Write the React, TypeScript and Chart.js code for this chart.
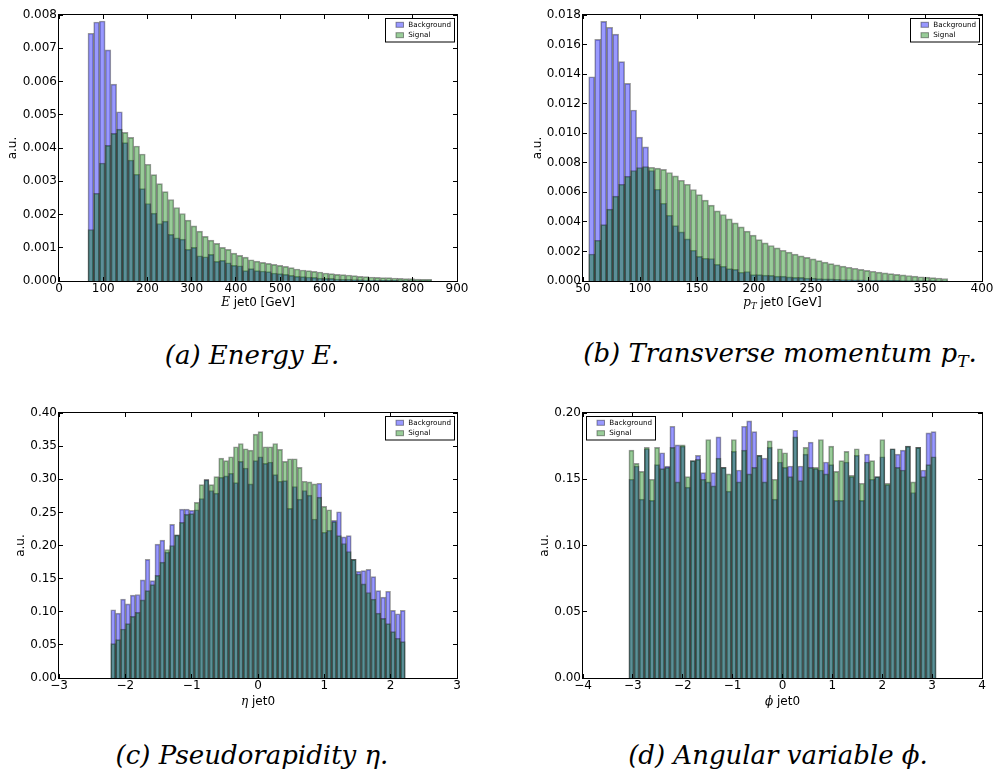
import React, { useEffect, useRef } from "react";
import { Chart, registerables } from "chart.js";

Chart.register(...registerables);

// ---------- data (histogram bin heights) ----------
const E_RANGE = [65.5, 842.8];
const E_BG = [
  0.00745, 0.00779, 0.00782, 0.00695, 0.00592, 0.00509, 0.00416, 0.00364, 0.00321, 0.00278,
  0.00233, 0.00204, 0.00173, 0.0018, 0.0014, 0.0013, 0.00126, 0.00095, 0.00101, 0.00076,
  0.00073, 0.0008, 0.00059, 0.00062, 0.00055, 0.00047, 0.00046, 0.00031, 0.00037, 0.00031,
  0.0003, 0.00028, 0.00024, 0.00022, 0.0002, 0.00017, 0.00014, 0.00013, 0.00012, 0.00011,
  0.00009, 0.00008, 0.00008, 0.00006, 0.00005, 0.00005, 0.00004, 0.00004, 0.00003, 0.00003,
  0.00003, 0.00002, 0.00002, 0.00002, 0.00001, 0.00001, 0.00001, 0.00001, 0.00001, 0.00001,
];
const E_SIG = [
  0.00155, 0.00264, 0.00355, 0.00408, 0.00444, 0.00457, 0.00447, 0.00432, 0.00406, 0.00382,
  0.00351, 0.0032, 0.00293, 0.00269, 0.00245, 0.00221, 0.00203, 0.00183, 0.00166, 0.0015,
  0.00134, 0.00123, 0.00113, 0.00101, 0.00095, 0.00084, 0.00077, 0.00072, 0.00064, 0.0006,
  0.00056, 0.00053, 0.0005, 0.00047, 0.00044, 0.0004, 0.00036, 0.00033, 0.00031, 0.00029,
  0.00027, 0.00024, 0.00022, 0.0002, 0.00019, 0.00018, 0.00016, 0.00014, 0.00013, 0.00012,
  0.00011, 0.0001, 0.0001, 0.00009, 0.00008, 0.00007, 0.00007, 0.00006, 0.00005, 0.00005,
];

const PT_RANGE = [55, 370];
const PT_BG = [
  0.01382, 0.01635, 0.01757, 0.01717, 0.01671, 0.01484, 0.01337, 0.01157, 0.00974, 0.00908,
  0.00748, 0.00621, 0.00526, 0.00445, 0.00375, 0.00332, 0.00285, 0.00208, 0.00167, 0.00154,
  0.00152, 0.00113, 0.001, 0.00084, 0.00079, 0.00059, 0.00064, 0.00043, 0.00043, 0.0004,
  0.00038, 0.00033, 0.00033, 0.00028, 0.00025, 0.00024, 0.0002, 0.0002, 0.00016, 0.00014,
  0.00014, 0.00012, 0.0001, 0.0001, 0.00008, 0.00008, 0.00007, 0.00006, 0.00006, 0.00005,
  0.00004, 0.00004, 0.00003, 0.00003, 0.00003, 0.00002, 0.00002, 0.00002, 0.00001, 0.00001,
];
const PT_SIG = [
  0.00183, 0.00276, 0.00382, 0.00486, 0.00574, 0.00655, 0.00709, 0.00748, 0.00768, 0.00775,
  0.0077, 0.00764, 0.00755, 0.00734, 0.00711, 0.00682, 0.00655, 0.00619, 0.00585, 0.00547,
  0.00513, 0.00474, 0.0045, 0.0042, 0.00393, 0.00366, 0.00337, 0.0031, 0.0028, 0.00258,
  0.0024, 0.00224, 0.00208, 0.00195, 0.00182, 0.0017, 0.0016, 0.0015, 0.00138, 0.00128,
  0.00118, 0.00109, 0.00101, 0.00093, 0.00086, 0.00079, 0.00072, 0.00066, 0.0006, 0.00055,
  0.0005, 0.00045, 0.00041, 0.00037, 0.00033, 0.00029, 0.00026, 0.00023, 0.0002, 0.00017,
];

const ETA_RANGE = [-2.22, 2.22];
const ETA_BG = [
  0.103, 0.098, 0.119, 0.112, 0.125, 0.126, 0.148, 0.179, 0.147, 0.202,
  0.208, 0.19, 0.232, 0.216, 0.255, 0.255, 0.253, 0.254, 0.271, 0.3,
  0.283, 0.279, 0.303, 0.305, 0.309, 0.295, 0.327, 0.317, 0.293, 0.328,
  0.334, 0.324, 0.326, 0.307, 0.297, 0.298, 0.256, 0.289, 0.27, 0.283,
  0.276, 0.24, 0.294, 0.22, 0.223, 0.238, 0.251, 0.213, 0.215, 0.179,
  0.161, 0.162, 0.164, 0.153, 0.132, 0.122, 0.131, 0.102, 0.097, 0.102,
];
const ETA_SIG = [
  0.052, 0.058, 0.074, 0.082, 0.093, 0.099, 0.118, 0.132, 0.141, 0.155,
  0.175, 0.194, 0.2, 0.216, 0.235, 0.247, 0.248, 0.265, 0.292, 0.299,
  0.292, 0.304, 0.332, 0.328, 0.334, 0.349, 0.354, 0.346, 0.344, 0.368,
  0.372, 0.349, 0.349, 0.354, 0.345, 0.327, 0.331, 0.331, 0.318, 0.297,
  0.296, 0.293, 0.273, 0.259, 0.254, 0.236, 0.215, 0.203, 0.191, 0.179,
  0.157, 0.142, 0.129, 0.119, 0.098, 0.09, 0.082, 0.07, 0.06, 0.055,
];

const PHI_RANGE = [-3.08, 3.08];
const PHI_BG = [
  0.15, 0.16, 0.135, 0.173, 0.134, 0.161, 0.17, 0.16, 0.19, 0.176,
  0.175, 0.144, 0.164, 0.168, 0.155, 0.148, 0.155, 0.182, 0.159, 0.141,
  0.171, 0.157, 0.19, 0.194, 0.186, 0.168, 0.166, 0.174, 0.135, 0.163,
  0.159, 0.16, 0.187, 0.16, 0.169, 0.178, 0.158, 0.157, 0.163, 0.161,
  0.134, 0.134, 0.163, 0.152, 0.168, 0.134, 0.169, 0.15, 0.152, 0.167,
  0.146, 0.173, 0.169, 0.172, 0.175, 0.14, 0.174, 0.157, 0.185, 0.186,
];
const PHI_SIG = [
  0.172, 0.162, 0.156, 0.174, 0.15, 0.174, 0.158, 0.159, 0.174, 0.148,
  0.176, 0.152, 0.164, 0.165, 0.15, 0.18, 0.145, 0.166, 0.159, 0.154,
  0.18, 0.148, 0.172, 0.154, 0.159, 0.168, 0.148, 0.179, 0.15, 0.173,
  0.17, 0.152, 0.182, 0.149, 0.174, 0.159, 0.159, 0.18, 0.154, 0.175,
  0.156, 0.164, 0.171, 0.153, 0.173, 0.147, 0.163, 0.164, 0.152, 0.18,
  0.147, 0.173, 0.159, 0.157, 0.175, 0.148, 0.174, 0.152, 0.161, 0.167,
];

const SERIES_LABELS = ["Background", "Signal"];

// ---------- styling ----------
const BLUE = "rgba(0,0,255,0.4)";
const GREEN = "rgba(0,128,0,0.4)";
const EDGE = "rgba(0,0,0,0.4)";
const SANS = "'DejaVu Sans', sans-serif";
const SERIF = "'DejaVu Serif', serif";

function binCenters(range: number[], n: number) {
  const w = (range[1] - range[0]) / n;
  const out: number[] = [];
  for (let i = 0; i < n; i++) out.push(range[0] + (i + 0.5) * w);
  return out;
}

const fmtMinus = (s: string) => s.replace("-", "\u2212");

const mplPlugin = {
  id: "mpl",
  afterDatasetsDraw(chart: any, _args: any, opts: any) {
    const { ctx, chartArea: a } = chart;
    const xs = chart.scales.x;
    const ys = chart.scales.y;
    ctx.save();
    // inward ticks on all four sides
    ctx.strokeStyle = "#000";
    ctx.lineWidth = 1;
    const L = 4;
    ctx.beginPath();
    xs.ticks.forEach((t: any) => {
      const px = Math.floor(xs.getPixelForValue(t.value)) + 0.5;
      ctx.moveTo(px, a.bottom);
      ctx.lineTo(px, a.bottom - L);
      ctx.moveTo(px, a.top);
      ctx.lineTo(px, a.top + L);
    });
    ys.ticks.forEach((t: any) => {
      const py = Math.floor(ys.getPixelForValue(t.value)) + 0.5;
      ctx.moveTo(a.left, py);
      ctx.lineTo(a.left + L, py);
      ctx.moveTo(a.right, py);
      ctx.lineTo(a.right - L, py);
    });
    ctx.stroke();
    // frame
    ctx.strokeRect(a.left - 0.5, a.top - 0.5, a.right - a.left + 1, a.bottom - a.top + 1);

    // legend
    const bw = 69;
    const bh = 23.5;
    const bx = Math.round(opts.legendSide === "left" ? a.left + 3 : a.right - 3 - bw);
    const by = Math.round(a.top + 3);
    ctx.fillStyle = "#fff";
    ctx.fillRect(bx, by, bw, bh);
    ctx.strokeStyle = "#000";
    ctx.strokeRect(bx + 0.5, by + 0.5, bw, bh);
    chart.data.datasets.forEach((ds: any, i: number) => {
      const cy = by + 6.8 + i * 10.4;
      ctx.fillStyle = ds.backgroundColor;
      ctx.fillRect(bx + 11, cy - 2.5, 7.5, 5);
      ctx.strokeStyle = EDGE;
      ctx.strokeRect(bx + 11, cy - 2.5, 7.5, 5);
      ctx.fillStyle = "#000";
      ctx.font = `7.2px ${SANS}`;
      ctx.textBaseline = "middle";
      ctx.textAlign = "left";
      ctx.fillText(ds.label, bx + 23.3, cy);
    });

    // x-axis title (mixed fonts)
    const parts = opts.titleParts as { t: string; f: string; dy?: number }[];
    const widths = parts.map((p) => {
      ctx.font = p.f;
      return ctx.measureText(p.t).width;
    });
    const total = widths.reduce((s, w) => s + w, 0);
    let x = (a.left + a.right) / 2 - total / 2;
    const y = a.bottom + opts.titleDy;
    ctx.fillStyle = "#000";
    ctx.textBaseline = "alphabetic";
    ctx.textAlign = "left";
    parts.forEach((p, i) => {
      ctx.font = p.f;
      ctx.fillText(p.t, x, y + (p.dy || 0));
      x += widths[i];
    });
    ctx.restore();
  },
};

type Spec = {
  left: number;
  top: number;
  w: number;
  h: number;
  padTop: number;
  padRight: number;
  yW: number;
  xH: number;
  xMin: number;
  xMax: number;
  xStep: number;
  yMax: number;
  yStep: number;
  yDec: number;
  range: number[];
  bg: number[];
  sig: number[];
  legendSide: "left" | "right";
  titleParts: { t: string; f: string; dy?: number }[];
  titleDy: number;
};

function Hist({ spec }: { spec: Spec }) {
  const ref = useRef<HTMLCanvasElement>(null);
  useEffect(() => {
    const xs = binCenters(spec.range, spec.bg.length);
    const mk = (label: string, vals: number[], color: string, order: number) => ({
      label,
      order,
      data: xs.map((x, i) => ({ x, y: vals[i] })),
      backgroundColor: color,
      borderColor: EDGE,
      borderWidth: 1,
      grouped: false,
      categoryPercentage: 1,
      barPercentage: 1,
    });
    const tickFont = { family: SANS, size: 12 };
    const chart = new Chart(ref.current as HTMLCanvasElement, {
      type: "bar",
      data: {
        // Background drawn first (order 1), Signal on top (order 0)
        datasets: [mk(SERIES_LABELS[0], spec.bg, BLUE, 1), mk(SERIES_LABELS[1], spec.sig, GREEN, 0)] as any,
      },
      options: {
        animation: false,
        responsive: false,
        maintainAspectRatio: false,
        devicePixelRatio: 1,
        events: [],
        layout: { padding: { top: spec.padTop, right: spec.padRight, left: 0, bottom: 0 } },
        plugins: {
          legend: { display: false },
          tooltip: { enabled: false },
          mpl: { legendSide: spec.legendSide, titleParts: spec.titleParts, titleDy: spec.titleDy },
        } as any,
        scales: {
          x: {
            type: "linear",
            min: spec.xMin,
            max: spec.xMax,
            offset: false,
            grid: { display: false, drawTicks: false },
            border: { display: false },
            ticks: {
              stepSize: spec.xStep,
              autoSkip: false,
              maxRotation: 0,
              padding: 1,
              color: "#000",
              font: tickFont,
              callback: (v: any) => fmtMinus(String(v)),
            },
            afterFit: (s: any) => {
              s.height = spec.xH;
              s.paddingLeft = 0;
              s.paddingRight = 0;
            },
          },
          y: {
            type: "linear",
            min: 0,
            max: spec.yMax,
            grid: { display: false, drawTicks: false },
            border: { display: false },
            ticks: {
              stepSize: spec.yStep,
              autoSkip: false,
              padding: 2,
              color: "#000",
              font: tickFont,
              callback: (v: any) => Number(v).toFixed(spec.yDec),
            },
            title: {
              display: true,
              text: "a.u.",
              color: "#000",
              font: { family: SANS, size: 12 },
              padding: { top: 6, bottom: 0 },
            },
            afterFit: (s: any) => {
              s.width = spec.yW;
              s.paddingTop = 0;
              s.paddingBottom = 0;
            },
          },
        },
      } as any,
      plugins: [mplPlugin],
    });
    return () => chart.destroy();
  }, []);
  return (
    <canvas
      ref={ref}
      width={spec.w}
      height={spec.h}
      style={{ position: "absolute", left: spec.left, top: spec.top, width: spec.w, height: spec.h }}
    />
  );
}

const ITAL = `italic 12px ${SERIF}`;
const PLAIN = `12px ${SANS}`;

const SPECS: Spec[] = [
  {
    left: 0, top: 0, w: 470, h: 320, padTop: 15, padRight: 13, yW: 59, xH: 39,
    xMin: 0, xMax: 900, xStep: 100, yMax: 0.008, yStep: 0.001, yDec: 3,
    range: E_RANGE, bg: E_BG, sig: E_SIG, legendSide: "right",
    titleParts: [{ t: "E", f: ITAL }, { t: " jet0 [GeV]", f: PLAIN }], titleDy: 25,
  },
  {
    left: 525, top: 0, w: 470, h: 320, padTop: 15, padRight: 13, yW: 58, xH: 39,
    xMin: 50, xMax: 400, xStep: 50, yMax: 0.018, yStep: 0.002, yDec: 3,
    range: PT_RANGE, bg: PT_BG, sig: PT_SIG, legendSide: "right",
    titleParts: [
      { t: "p", f: ITAL },
      { t: "T", f: `italic 8.5px ${SERIF}`, dy: 2.5 },
      { t: " jet0 [GeV]", f: PLAIN },
    ],
    titleDy: 25,
  },
  {
    left: 8, top: 395, w: 462, h: 325, padTop: 18, padRight: 13, yW: 51, xH: 42,
    xMin: -3, xMax: 3, xStep: 1, yMax: 0.4, yStep: 0.05, yDec: 2,
    range: ETA_RANGE, bg: ETA_BG, sig: ETA_SIG, legendSide: "right",
    titleParts: [{ t: "\u03B7", f: ITAL }, { t: " jet0", f: PLAIN }], titleDy: 27,
  },
  {
    left: 532, top: 395, w: 463, h: 325, padTop: 18, padRight: 13, yW: 51, xH: 42,
    xMin: -4, xMax: 4, xStep: 1, yMax: 0.2, yStep: 0.05, yDec: 2,
    range: PHI_RANGE, bg: PHI_BG, sig: PHI_SIG, legendSide: "left",
    titleParts: [{ t: "\u03D5", f: ITAL }, { t: " jet0", f: PLAIN }], titleDy: 27,
  },
];

const captionStyle = (x: number, y: number): React.CSSProperties => ({
  position: "absolute",
  left: x,
  top: y,
  transform: "translate(-50%, -50%)",
  fontFamily: SERIF,
  fontStyle: "italic",
  fontSize: 26,
  lineHeight: 1,
  whiteSpace: "nowrap",
  color: "#000",
});

export default function App() {
  return (
    <div
      style={{
        position: "absolute",
        left: 0,
        top: 0,
        width: 993,
        height: 769,
        background: "#fff",
        overflow: "hidden",
      }}
    >
      {SPECS.map((s, i) => (
        <Hist key={i} spec={s} />
      ))}
      <div style={captionStyle(252, 355)}>(a) Energy E.</div>
      <div style={captionStyle(780, 355)}>
        (b) Transverse momentum p<sub style={{ fontSize: 17, verticalAlign: "-0.25em" }}>T</sub>.
      </div>
      <div style={captionStyle(252, 755)}>(c) Pseudorapidity η.</div>
      <div style={captionStyle(778, 755)}>(d) Angular variable ϕ.</div>
    </div>
  );
}
